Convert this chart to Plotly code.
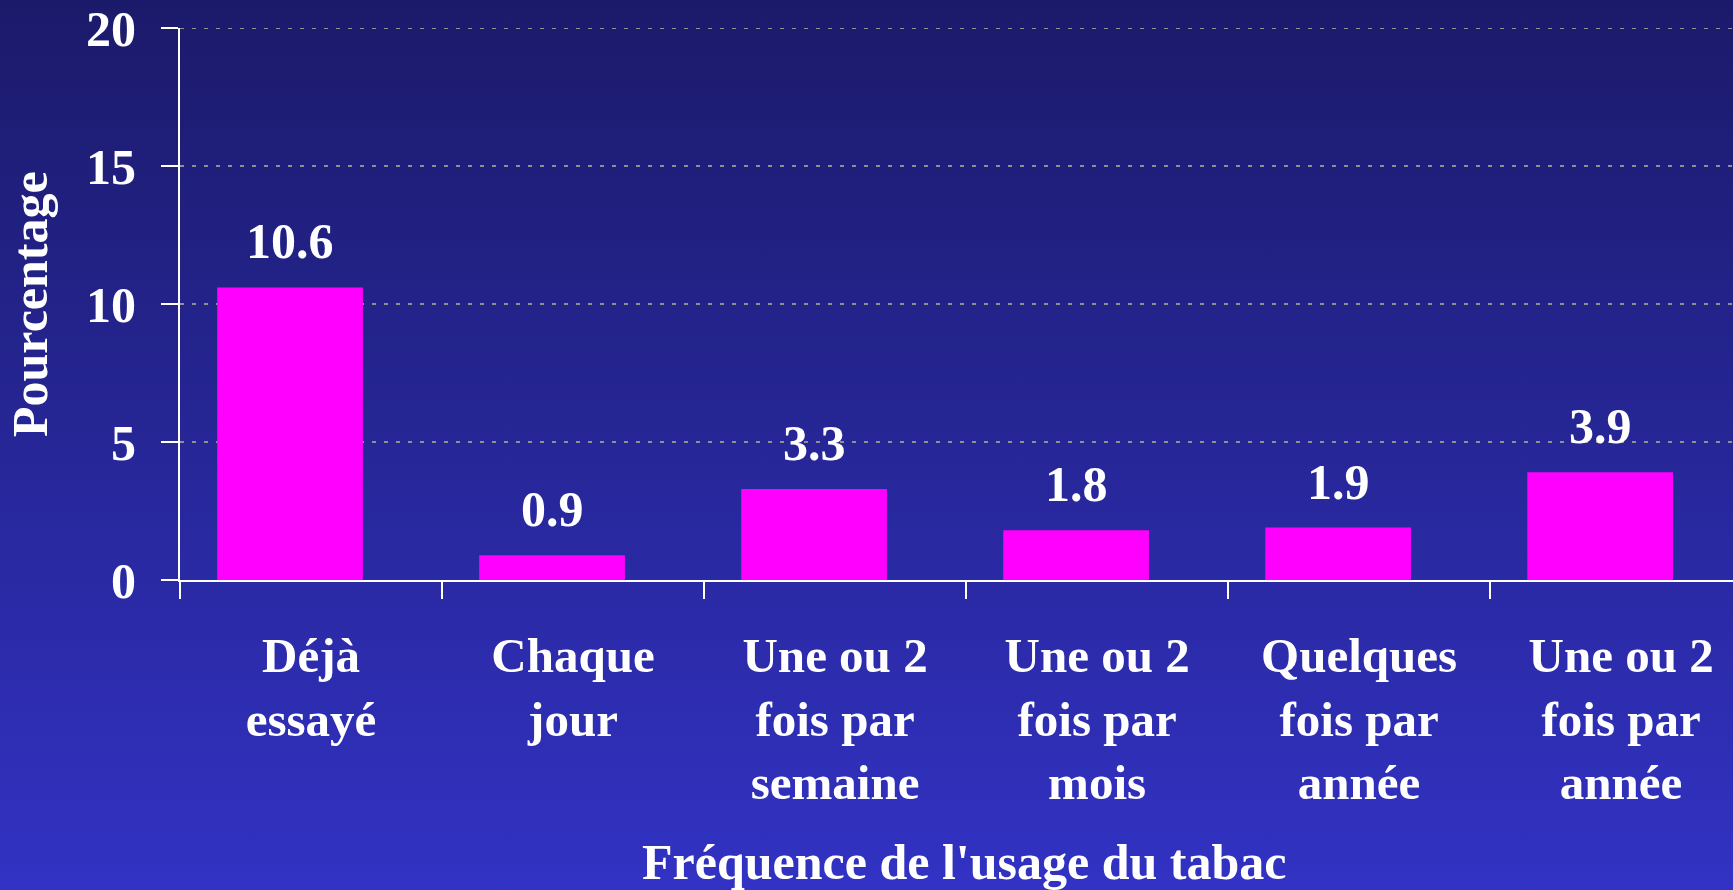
import base64
import plotly.graph_objects as go

categories = ["Déjà<br>essayé", "Chaque<br>jour", "Une ou 2<br>fois par<br>semaine",
              "Une ou 2<br>fois par<br>mois", "Quelques<br>fois par<br>année", "Une ou 2<br>fois par<br>année"]
values = [10.6, 0.9, 3.3, 1.8, 1.9, 3.9]
value_labels = ["10.6", "0.9", "3.3", "1.8", "1.9", "3.9"]
y_ticks = [0, 5, 10, 15, 20]
x_title = "Fréquence de l'usage du tabac"
y_title = "Pourcentage"

W, H = 1733, 890
ML, MR, MT, MB = 180, 0, 28, 310
PW, PH = W - ML - MR, H - MT - MB
FAM = "Liberation Serif, Times New Roman, serif"
FONT = dict(family=FAM, size=50, color="white", weight="bold")
TICKFONT = dict(family=FAM, size=49, color="white", weight="bold")

svg = ('<svg xmlns="http://www.w3.org/2000/svg" width="100" height="100" viewBox="0 0 100 100" '
       'preserveAspectRatio="none"><defs><linearGradient id="g" x1="0" y1="0" x2="0" y2="1">'
       '<stop offset="0" stop-color="#1b1a6a"/><stop offset="1" stop-color="#3232c4"/>'
       '</linearGradient></defs><rect width="100" height="100" fill="url(#g)"/></svg>')
src = "data:image/svg+xml;base64," + base64.b64encode(svg.encode()).decode()

fig = go.Figure()
fig.add_trace(go.Bar(
    x=categories, y=values, marker=dict(color="#ff00ff", line=dict(width=0)),
    width=0.556, offset=-0.358, hoverinfo="skip",
))

annotations = []
for c, v, t in zip(categories, values, value_labels):
    annotations.append(dict(x=c, y=v, text=t, showarrow=False, xref="x", yref="y",
                            xshift=-21, yanchor="bottom", yshift=16, font=FONT))
annotations.append(dict(x=(964 - ML) / PW, y=(H - 879 - MB) / PH, xref="paper", yref="paper",
                        text=x_title, showarrow=False, xanchor="center", yanchor="bottom",
                        yshift=-13, font=FONT))
annotations.append(dict(x=(30 - ML) / PW, y=0.5, xref="paper", yref="paper", text=y_title,
                        showarrow=False, textangle=-90, xanchor="center", yanchor="middle",
                        font=FONT))

fig.update_layout(
    width=W, height=H, margin=dict(l=ML, r=MR, t=MT, b=MB, pad=0),
    paper_bgcolor="#1b1a6a", plot_bgcolor="rgba(0,0,0,0)",
    showlegend=False,
    font=FONT,
    annotations=annotations,
    shapes=[dict(type="line", xref="paper", yref="y", x0=0, x1=1, y0=y_ticks[-1], y1=y_ticks[-1],
                 line=dict(color="#8f8f8f", width=2, dash="4px,8px"), layer="below")],
    images=[dict(source=src, xref="paper", yref="paper", x=-ML / PW, y=1 + MT / PH,
                 sizex=W / PW, sizey=H / PH, xanchor="left", yanchor="top",
                 sizing="stretch", layer="below")],
    xaxis=dict(type="category", range=[-0.5, 5.427], showline=True, linecolor="white", linewidth=2,
               ticks="outside", tickson="boundaries", ticklen=17, tickwidth=2, tickcolor="white",
               showgrid=False, tickfont=TICKFONT, ticklabelstandoff=31),
    yaxis=dict(range=[0, 20], tickvals=y_ticks, showline=True, linecolor="white", linewidth=2,
               ticks="outside", ticklen=17, tickwidth=2, tickcolor="white",
               showgrid=True, gridcolor="#8f8f8f", gridwidth=2, griddash="4px,8px",
               zeroline=False, tickfont=FONT, ticklabelstandoff=15),
)

fig.write_html("out.html", config={"displayModeBar": False}, post_script=(
    "document.body.style.margin='0';document.body.style.overflow='hidden';"
    "document.body.style.background='#1b1a6a';"))
